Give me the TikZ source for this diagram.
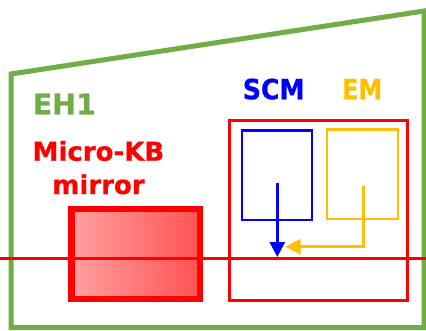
\documentclass[tikz,border=0pt]{standalone}
\usepackage{fontspec}
\setmainfont{DejaVu Sans}
\newfontfamily\heavy{DejaVu Sans Bold}[FakeBold=0.6]
\usetikzlibrary{arrows.meta}
\definecolor{ehgreen}{RGB}{112,173,71}
\definecolor{emyellow}{RGB}{255,192,0}
\definecolor{pinkL}{RGB}{255,160,160}
\definecolor{pinkR}{RGB}{255,82,82}
\tikzset{
  lbl/.style={inner sep=0pt, anchor=base},
  thin box/.style={line width=2.8pt},
  flowarrow/.style={line width=2.8pt, -{Triangle[width=15pt,length=15pt]}},
}
\begin{document}
\begin{tikzpicture}[x=1pt,y=-1pt]
\useasboundingbox (0,0) rectangle (426,330);
% hutch outline
\draw[ehgreen, line width=5pt, line join=miter] (11,74) -- (424,11) -- (424,327.5) -- (11,327.5) -- cycle;
% labels
\node[lbl, ehgreen, font=\heavy\fontsize{28.5}{30}\selectfont] (eh1) at (64.3,114.3) {EH1};
\node[lbl, red, font=\heavy\fontsize{26}{28}\selectfont] (mkb) at (98.4,160.7) {Micro-KB};
\node[lbl, red, font=\heavy\fontsize{26}{28}\selectfont] (mir) at (98.5,194) {mirror};
\node[lbl, blue, font=\heavy\fontsize{28}{30}\selectfont, xscale=0.9] (scm) at (273.7,99.3) {SCM};
\node[lbl, emyellow, font=\heavy\fontsize{28}{30}\selectfont, xscale=0.85] (em) at (362.2,99.3) {EM};
% mirror
\node[draw=red, line width=6.5pt, left color=pinkL, right color=pinkR, minimum width=128.5pt, minimum height=90pt, inner sep=0pt] (mirror) at (135.75,254) {};
% station box
\node[draw=red, line width=2.5pt, minimum width=178pt, minimum height=180pt, inner sep=0pt] (station) at (318.5,210.5) {};
\node[draw=blue, thin box, minimum width=70pt, minimum height=89.5pt, inner sep=0pt] (scmbox) at (277,175.25) {};
\node[draw=emyellow, thin box, minimum width=71pt, minimum height=89.5pt, inner sep=0pt] (embox) at (362.5,174.25) {};
% beam
\coordinate (beamL) at (0,258.3);
\coordinate (beamR) at (426,258.3);
\draw[red, line width=3pt] (beamL) -- (beamR);
% arrows
\coordinate (scmstart) at (277.3,182.7);
\coordinate (scmend) at (277.3,257);
\coordinate (emstart) at (363.3,186);
\coordinate (emend) at (285.5,246.7);
\draw[flowarrow, blue] (scmstart) -- (scmend);
\draw[flowarrow, emyellow] (emstart) |- (emend);
\end{tikzpicture}
\end{document}
